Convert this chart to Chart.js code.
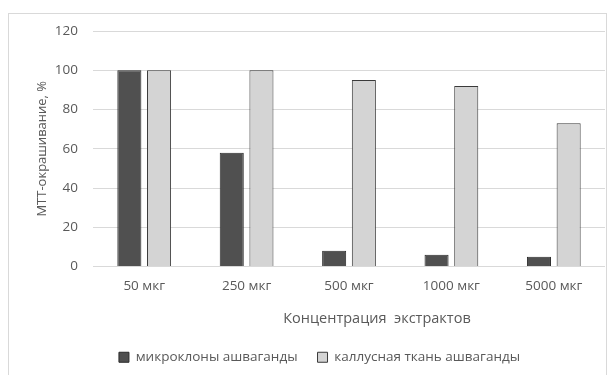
<!DOCTYPE html>
<html>
<head>
<meta charset="utf-8">
<script src="https://cdn.jsdelivr.net/npm/chart.js@4"></script>
<style>
  html, body { margin: 0; padding: 0; background: #fff; }
  #frame {
    position: absolute; left: 8px; top: 13px; width: 599px; height: 380px;
    border-top: 1px solid #d9d9d9; border-left: 1px solid #d9d9d9; border-right: 1px solid #d9d9d9;
    box-sizing: border-box;
  }
  #wrap { position: absolute; left: 0; top: 0; width: 609px; height: 375px; }
</style>
</head>
<body>
<div id="frame"></div>
<div id="wrap"><canvas id="c" width="609" height="375"></canvas></div>
<script>
const categories = ['50 мкг', '250 мкг', '500 мкг', '1000 мкг', '5000 мкг'];
const microclones = [100, 58, 8, 6, 5];
const callus = [100, 100, 95, 92, 73];
const seriesNames = ['микроклоны ашваганды', 'каллусная ткань ашваганды'];
const yTicks = [0, 20, 40, 60, 80, 100, 120];
const xTitle = 'Концентрация  экстрактов';
const yTitle = 'МТТ-окрашивание, %';

const FONT = "'Open Sans', 'Liberation Sans', sans-serif";
const TEXT = '#595959';

// Category-axis caption, drawn below the tick labels, a little right of centre
const xTitlePlugin = {
  id: 'xTitle',
  afterDraw(chart) {
    const { ctx, chartArea } = chart;
    ctx.save();
    ctx.font = '14.5px ' + FONT;
    ctx.fillStyle = TEXT;
    ctx.textAlign = 'center';
    ctx.textBaseline = 'middle';
    ctx.fillText(xTitle, (chartArea.left + chartArea.right) / 2 + 28, chartArea.bottom + 52);
    ctx.restore();
  }
};

new Chart(document.getElementById('c'), {
  type: 'bar',
  data: {
    labels: categories,
    datasets: [
      { label: seriesNames[0], data: microclones, backgroundColor: '#505050', borderColor: '#2a2a2a', borderWidth: 1 },
      { label: seriesNames[1], data: callus, backgroundColor: '#d4d4d4', borderColor: '#3a3a3a', borderWidth: 1 }
    ]
  },
  plugins: [xTitlePlugin],
  options: {
    responsive: false,
    animation: false,
    devicePixelRatio: 1,
    layout: { padding: { left: 34, right: 4, top: 31, bottom: 1 } },
    datasets: { bar: { categoryPercentage: 0.58, barPercentage: 0.81 } },
    plugins: {
      tooltip: { enabled: false },
      legend: {
        position: 'bottom',
        labels: {
          color: TEXT, font: { family: FONT, size: 13.5 },
          boxWidth: 10, boxHeight: 10, padding: 20
        }
      }
    },
    scales: {
      x: {
        afterFit: (s) => { s.height = 64; },
        grid: { display: false, drawTicks: false },
        border: { display: false },
        ticks: { color: TEXT, font: { family: FONT, size: 13.5 }, padding: 12 }
      },
      y: {
        min: 0, max: 120,
        afterBuildTicks: (s) => { s.ticks = yTicks.map(v => ({ value: v })); },
        afterFit: (s) => { s.width = 59; },
        grid: { color: '#d9d9d9', drawTicks: false, lineWidth: 1 },
        border: { display: false },
        ticks: { color: TEXT, font: { family: FONT, size: 13.5 }, padding: 15 },
        title: { display: true, text: yTitle, color: TEXT,
                 font: { family: FONT, size: 13 }, padding: 0 }
      }
    }
  }
});
</script>
</body>
</html>
